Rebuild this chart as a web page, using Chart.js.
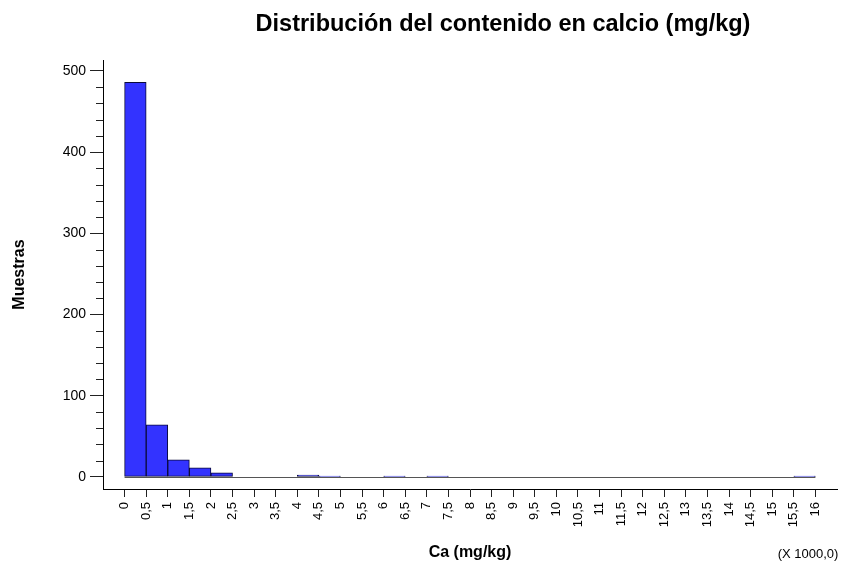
<!DOCTYPE html>
<html>
<head>
<meta charset="utf-8">
<script src="https://cdn.jsdelivr.net/npm/chart.js@4.4.1/dist/chart.umd.min.js"></script>
<style>
    body { margin: 0; background: #fff; }
    #wrap { width: 866px; height: 570px; }
</style>
</head>
<body>
<div id="wrap"><canvas id="myChart" width="866" height="570"></canvas></div>
<script>
// histogram bins (thousands of mg/kg), left edge of each bin
const binStarts = [0, 0.5, 1, 1.5, 2, 2.5, 3, 3.5, 4, 4.5, 5, 5.5, 6, 6.5, 7, 7.5,
    8, 8.5, 9, 9.5, 10, 10.5, 11, 11.5, 12, 12.5, 13, 13.5, 14, 14.5, 15, 15.5];
const binWidth = 0.5;
const counts = [486, 64, 21, 11, 5, 0, 0, 0, 2, 1, 0, 0, 1, 0, 1, 0,
    0, 0, 0, 0, 0, 0, 0, 0, 0, 0, 0, 0, 0, 0, 0, 1];

const xTicks = [0, 0.5, 1, 1.5, 2, 2.5, 3, 3.5, 4, 4.5, 5, 5.5, 6, 6.5, 7, 7.5, 8,
    8.5, 9, 9.5, 10, 10.5, 11, 11.5, 12, 12.5, 13, 13.5, 14, 14.5, 15, 15.5, 16];
const yTicks = [0, 20, 40, 60, 80, 100, 120, 140, 160, 180, 200, 220, 240, 260, 280,
    300, 320, 340, 360, 380, 400, 420, 440, 460, 480, 500];

const chartTitle = "Distribución del contenido en calcio (mg/kg)";
const xTitle = "Ca (mg/kg)";
const yTitle = "Muestras";
const xNote = "(X 1000,0)";

const FONT = "'Liberation Sans', Arial, sans-serif";

function isMajor(v) {
    return v % 100 === 0;
}

// baseline, minor ticks, title and scale note
const extras = {
    id: "extras",
    beforeDatasetsDraw(chart) {
        const { ctx, scales: { x, y } } = chart;
        const y0 = Math.round(y.getPixelForValue(0)) + 0.5;
        ctx.save();
        ctx.strokeStyle = "#555";
        ctx.lineWidth = 1;
        ctx.beginPath();
        ctx.moveTo(x.getPixelForValue(xTicks[0]), y0);
        ctx.lineTo(x.getPixelForValue(xTicks[xTicks.length - 1]), y0);
        ctx.stroke();
        ctx.restore();
    },
    afterDraw(chart) {
        const { ctx, chartArea, scales: { y } } = chart;
        ctx.save();
        ctx.strokeStyle = "#222";
        ctx.lineWidth = 1;
        ctx.beginPath();
        yTicks.filter(v => !isMajor(v)).forEach(v => {
            const py = Math.round(y.getPixelForValue(v)) + 0.5;
            ctx.moveTo(chartArea.left - 7, py);
            ctx.lineTo(chartArea.left, py);
        });
        ctx.stroke();

        ctx.fillStyle = "#000";
        ctx.textAlign = "center";
        ctx.textBaseline = "alphabetic";
        ctx.font = "bold 23.5px " + FONT;
        ctx.fillText(chartTitle, 503, 31);

        ctx.font = "13px " + FONT;
        ctx.fillText(xNote, 808, 558);
        ctx.restore();
    }
};

let buildChart = function () {
    const ctx = document.getElementById("myChart");

    const data = {
        datasets: [
            {
                label: "Ca",
                data: binStarts.map((b, i) => ({ x: b + binWidth / 2, y: counts[i] })),
                backgroundColor: "#3333ff",
                borderColor: "#0a0a3a",
                borderWidth: 1,
                borderSkipped: false,
                barPercentage: 1,
                categoryPercentage: 1,
            },
        ],
    };

    new Chart(ctx, {
        type: "bar",
        data: data,
        plugins: [extras],
        options: {
            responsive: false,
            animation: false,
            layout: {
                padding: { top: 60, right: 29, left: 0, bottom: 0 },
            },
            plugins: {
                legend: { display: false },
                tooltip: { enabled: false },
                title: { display: false },
            },
            scales: {
                x: {
                    type: "linear",
                    min: -0.5,
                    max: 16.5,
                    offset: false,
                    afterBuildTicks: function (scale) {
                        scale.ticks = xTicks.map(v => ({ value: v }));
                    },
                    afterFit: function (scale) {
                        scale.height = 81;
                    },
                    border: { display: true, color: "#000", width: 1 },
                    grid: {
                        display: true,
                        offset: false,
                        drawOnChartArea: false,
                        drawTicks: true,
                        tickLength: 8,
                        tickColor: "#222",
                    },
                    ticks: {
                        autoSkip: false,
                        minRotation: 90,
                        maxRotation: 90,
                        padding: 5,
                        color: "#000",
                        font: { family: FONT, size: 13 },
                        callback: function (value) {
                            return String(value).replace(".", ",");
                        },
                    },
                    title: {
                        display: true,
                        text: xTitle,
                        color: "#000",
                        font: { family: FONT, size: 16, weight: "bold" },
                        padding: { top: 0, bottom: 8 },
                    },
                },
                y: {
                    min: -15,
                    max: 513.5,
                    afterBuildTicks: function (scale) {
                        scale.ticks = yTicks.map(v => ({ value: v }));
                    },
                    afterFit: function (scale) {
                        scale.width = 103;
                    },
                    border: { display: true, color: "#000", width: 1 },
                    grid: {
                        display: true,
                        drawOnChartArea: false,
                        drawTicks: true,
                        tickLength: 13,
                        tickColor: function (c) {
                            return c.tick && isMajor(c.tick.value) ? "#222" : "rgba(0,0,0,0)";
                        },
                    },
                    ticks: {
                        autoSkip: false,
                        padding: 4,
                        color: "#000",
                        font: { family: FONT, size: 14 },
                        callback: function (value) {
                            return isMajor(value) ? String(value) : "";
                        },
                    },
                    title: {
                        display: true,
                        text: yTitle,
                        color: "#000",
                        font: { family: FONT, size: 16, weight: "bold" },
                        padding: { top: 10, bottom: 0 },
                    },
                },
            },
        },
    });
};

buildChart();
</script>
</body>
</html>
